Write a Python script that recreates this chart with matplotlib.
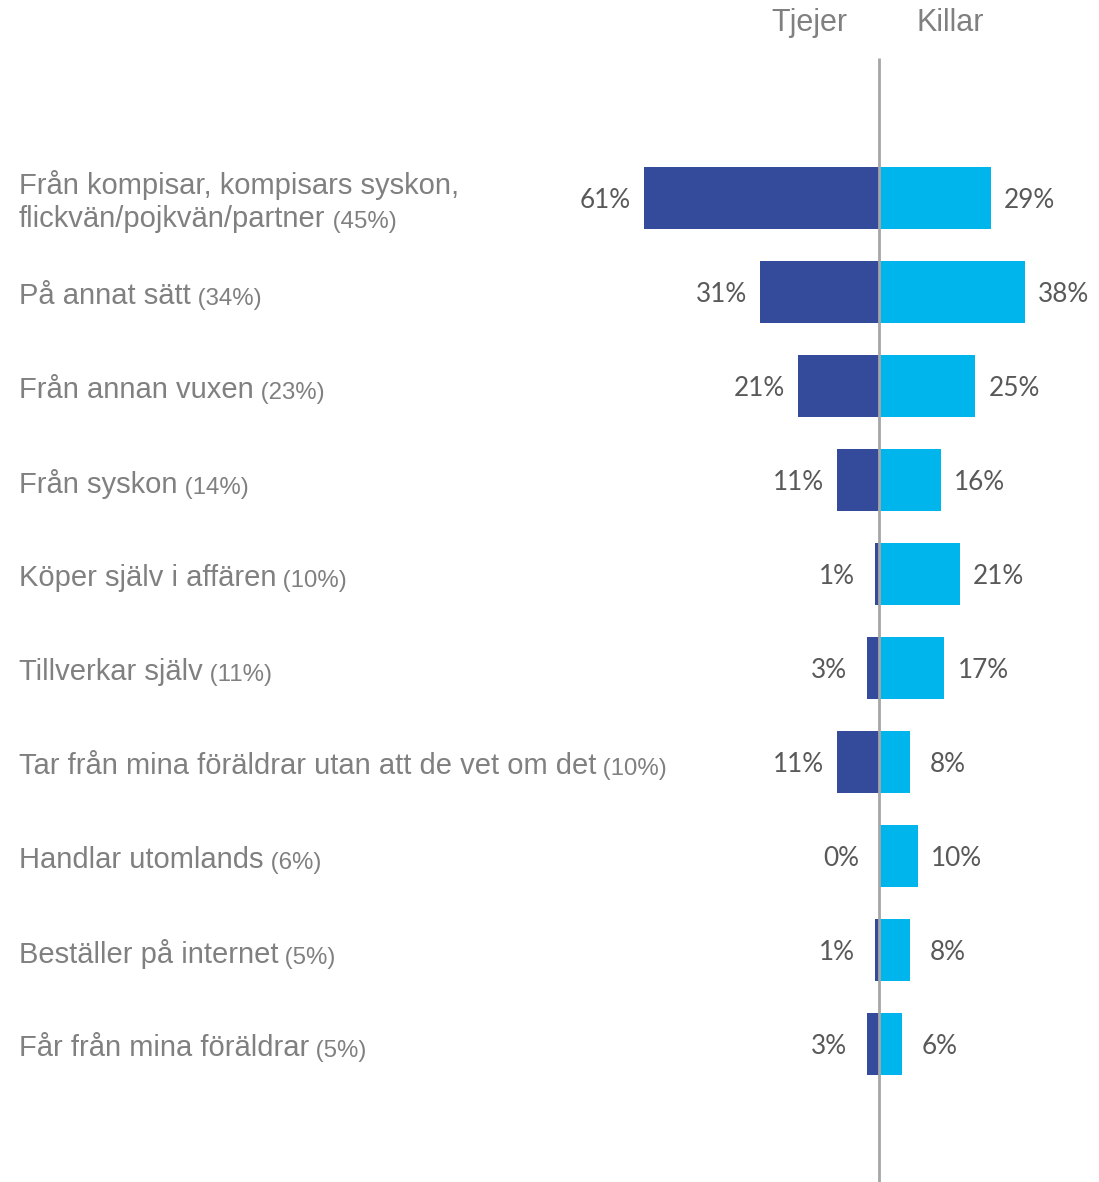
import matplotlib.pyplot as plt
import matplotlib.transforms as mtransforms

categories = [
    ["Från kompisar, kompisars syskon,", "flickvän/pojkvän/partner"],
    ["På annat sätt"],
    ["Från annan vuxen"],
    ["Från syskon"],
    ["Köper själv i affären"],
    ["Tillverkar själv"],
    ["Tar från mina föräldrar utan att de vet om det"],
    ["Handlar utomlands"],
    ["Beställer på internet"],
    ["Får från mina föräldrar"],
]
totals = [45, 34, 23, 14, 10, 11, 10, 6, 5, 5]
tjejer = [61, 31, 21, 11, 1, 3, 11, 0, 1, 3]
killar = [29, 38, 25, 16, 21, 17, 8, 10, 8, 6]

W, H = 1099, 1182
DARK = "#344A9A"
LIGHT = "#00B4EC"
GRAY = "#808080"
VALGRAY = "#595959"

fig = plt.figure(figsize=(W / 100, H / 100), dpi=100)
ax = fig.add_axes([0, 0, 1, 1])

# pixel geometry -> data limits
x0_px, px_per = 879, 3.85
y0_px, row_px = 198, 94
ax.set_xlim(-x0_px / px_per, (W - x0_px) / px_per)
ax.set_ylim((H - y0_px) / row_px, -y0_px / row_px)
ax.axis("off")

rows = list(range(len(categories)))
ax.barh(rows, [-v for v in tjejer], height=0.66, color=DARK, zorder=2)
ax.barh(rows, killar, height=0.66, color=LIGHT, zorder=2)

# center line
ax.plot([0, 0], [(58 - y0_px) / row_px, (H - y0_px) / row_px],
        color="#A6A6A6", lw=2, zorder=3, solid_capstyle="butt")

val_font = dict(family="Lato", fontsize=18.8, color=VALGRAY, va="center")
dy = 3 / row_px
for i in rows:
    g = 13 + (7 if tjejer[i] < 10 else 0)
    ax.text(-tjejer[i] - g / px_per, i + dy, f"{tjejer[i]}%", ha="right", **val_font)
    g = 13 + (7 if killar[i] < 10 else 0)
    ax.text(killar[i] + g / px_per, i + dy, f"{killar[i]}%", ha="left", **val_font)

# category labels
trans = mtransforms.blended_transform_factory(fig.transFigure, ax.transData)
lab_font = dict(family="Liberation Sans", color=GRAY)
line_step = 34 / row_px
for i, lines in enumerate(categories):
    n = len(lines)
    for k, line in enumerate(lines):
        y = i + (k - (n - 1) / 2) * line_step + 4 / row_px
        t = ax.text(19 / W, y, line, transform=trans, fontsize=21,
                    va="center", ha="left", **lab_font)
    ax.annotate(f" ({totals[i]}%)", xy=(1, 0), xycoords=t, fontsize=17.3,
                va="bottom", ha="left", **lab_font)

# headers
fig.text(809 / W, 1 - 23 / H, "Tjejer", ha="center", va="center",
         fontsize=22, **lab_font)
fig.text(950 / W, 1 - 23 / H, "Killar", ha="center", va="center",
         fontsize=22, **lab_font)

fig.savefig("out.png", dpi=100)
